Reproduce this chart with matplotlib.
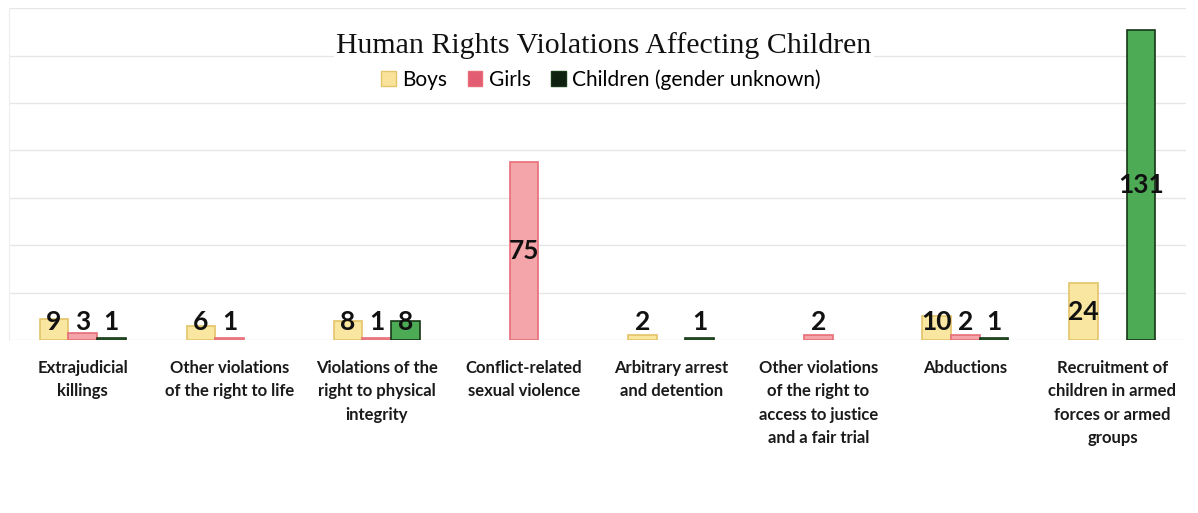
import matplotlib.pyplot as plt
import matplotlib.patches as mpatches
import numpy as np

categories = ['Extrajudicial\nkillings',
              'Other violations\nof the right to life',
              'Violations of the\nright to physical\nintegrity',
              'Conflict-related\nsexual violence',
              'Arbitrary arrest\nand detention',
              'Other violations\nof the right to\naccess to justice\nand a fair trial',
              'Abductions',
              'Recruitment of\nchildren in armed\nforces or armed\ngroups']
boys = [9, 6, 8, 0, 2, 0, 10, 24]
girls = [3, 1, 1, 75, 0, 2, 2, 0]
unknown = [1, 0, 8, 0, 1, 0, 1, 131]
series_names = ['Boys', 'Girls', 'Children (gender unknown)']

fill_colors = ['#F9E6A0', '#F4A5AA', '#4DAA55']
edge_colors = ['#E3C468', '#E86D78', '#173617']
legend_colors = ['#F9E29A', '#E25C72', '#0F1F10']

if __name__ == "__main__":
    fig = plt.figure(figsize=(11.98, 5.13), dpi=100)
    ax = fig.add_axes([0.0075, 0.337, 0.9825, 0.647])

    x = np.arange(len(categories))
    width = 0.195
    label_font = 'Lato'

    for i, vals in enumerate([boys, girls, unknown]):
        pos = x + (i - 1) * width
        edges = [edge_colors[i] if v > 0 else 'none' for v in vals]
        ax.bar(pos, vals, width, color=fill_colors[i], edgecolor=edges,
               linewidth=1.2, zorder=3)
        for xp, v in zip(pos, vals):
            if v == 0:
                continue
            ax.text(xp, max(v / 2, 7.5), str(v), ha='center', va='center',
                    fontsize=19, fontweight='bold', family=label_font,
                    color='#111111', zorder=4)

    ax.set_xlim(-0.5, len(categories) - 0.5)
    ax.set_ylim(0, 140)
    ax.set_yticks(np.arange(0, 141, 20))
    ax.set_yticklabels([])
    ax.tick_params(left=False, bottom=False)
    ax.grid(axis='y', color='#E6E6E6', linewidth=1, zorder=0)
    for s in ['top', 'right', 'bottom']:
        ax.spines[s].set_visible(False)
    ax.spines['left'].set_color('#EEEEEE')

    ax.set_xticks(x)
    ax.set_xticklabels(categories, fontsize=12, family=label_font,
                       fontweight='bold', color='#1A1A1A', linespacing=1.55,
                       va='top')
    ax.tick_params(axis='x', pad=11)

    # title and legend sit on a white patch over the gridlines
    ax.text(0.5055, 0.889, 'Human Rights Violations Affecting Children',
            transform=ax.transAxes, ha='center', va='center', fontsize=21.5,
            family='Liberation Serif', color='#111111', zorder=5,
            bbox=dict(facecolor='white', edgecolor='none', pad=2))

    handles = [mpatches.Patch(facecolor=legend_colors[i],
                              edgecolor=edge_colors[i], linewidth=1)
               for i in range(3)]
    leg = ax.legend(handles, series_names, loc='center',
                    bbox_to_anchor=(0.503, 0.786), ncol=3, frameon=True,
                    fancybox=False, edgecolor='white', framealpha=1,
                    prop={'family': label_font, 'size': 15},
                    handlelength=0.7, handleheight=0.7, handletextpad=0.3,
                    columnspacing=1.0, borderpad=0.1)
    leg.set_zorder(5)

    plt.savefig('out.png', dpi=100)
